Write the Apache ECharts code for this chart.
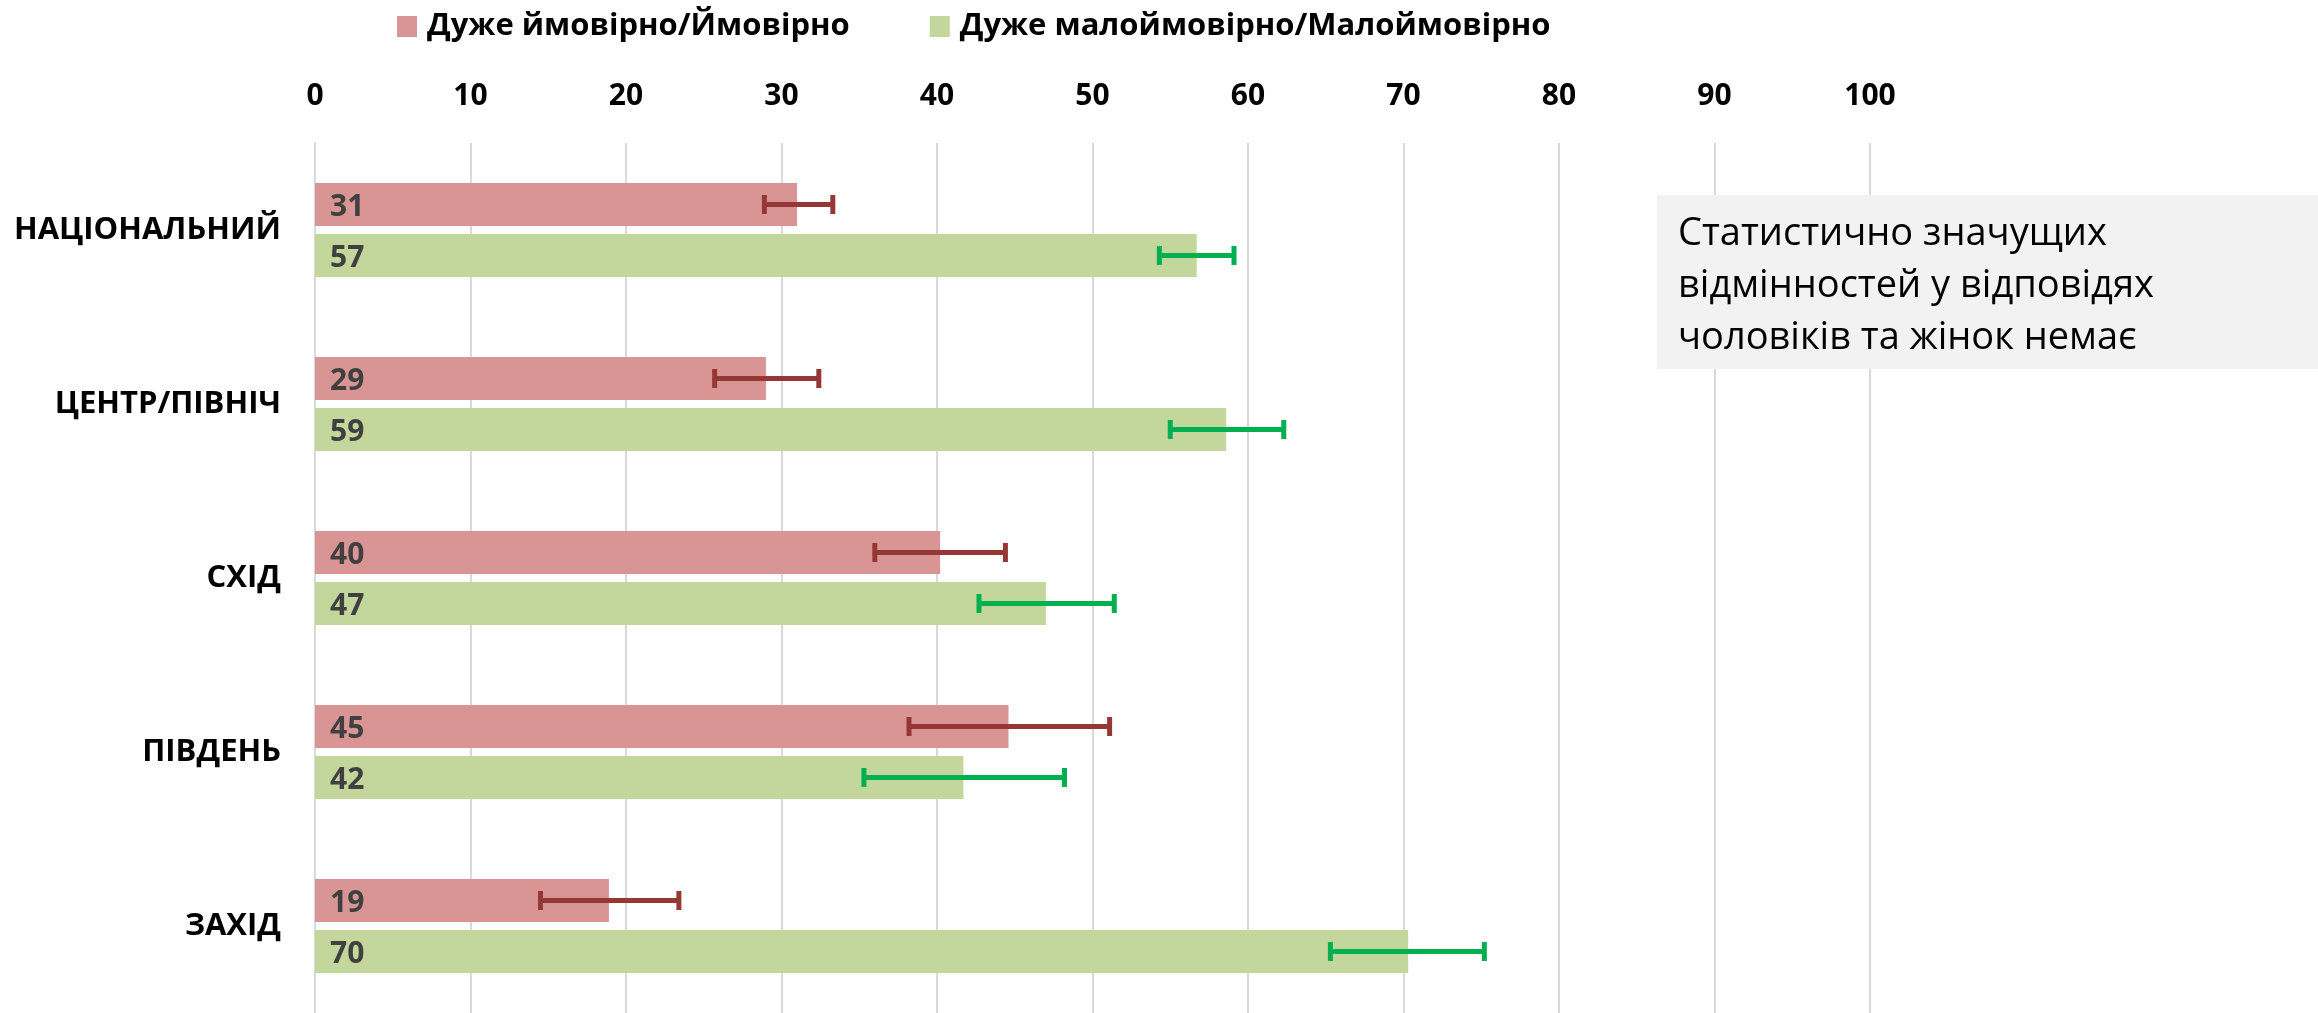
<!DOCTYPE html>
<html>
<head>
<meta charset="utf-8">
<script src="https://cdn.jsdelivr.net/npm/echarts@6/dist/echarts.min.js"></script>
<style>
  html, body { margin: 0; padding: 0; background: #fff; }
  #chart { width: 2318px; height: 1013px; }
</style>
</head>
<body>
<div id="chart"></div>
<script>
// категорії (регіони)
const categories = ['НАЦІОНАЛЬНИЙ', 'ЦЕНТР/ПІВНІЧ', 'СХІД', 'ПІВДЕНЬ', 'ЗАХІД']
const seriesNames = ['Дуже ймовірно/Ймовірно', 'Дуже малоймовірно/Малоймовірно']
// значення
const likelyValues = [31.0, 29.0, 40.2, 44.6, 18.9]
const unlikelyValues = [56.7, 58.6, 47.0, 41.7, 70.3]
// довірчі інтервали
const likelyLow = [28.9, 25.7, 36.0, 38.2, 14.5]
const likelyHigh = [33.3, 32.4, 44.4, 51.1, 23.4]
const unlikelyLow = [54.3, 55.0, 42.7, 35.3, 65.3]
const unlikelyHigh = [59.1, 62.3, 51.4, 48.2, 75.2]
// вісь x
const xMin = 0
const xMax = 100
const xStep = 10
// примітка
const noteLines = ['Статистично значущих', 'відмінностей у відповідях', 'чоловіків та жінок немає']

const FONT = '"Open Sans", "Noto Sans", sans-serif'
const BAR_W = 43
const BAR_GAP = 8

const chart = echarts.init(document.getElementById('chart'))

// планки похибок
function errorSeries(name, low, high, color, shift) {
  return {
    type: 'custom',
    name: name + ' err',
    z: 5,
    encode: { x: [1, 2], y: 0 },
    data: categories.map((c, i) => [i, low[i], high[i]]),
    renderItem(params, api) {
      const a = api.coord([api.value(1), api.value(0)])
      const b = api.coord([api.value(2), api.value(0)])
      const y = a[1] + shift
      const capH = 19, capW = 5
      return {
        type: 'group',
        children: [
          { type: 'line', shape: { x1: a[0], y1: y, x2: b[0], y2: y }, style: { stroke: color, lineWidth: 5 } },
          { type: 'rect', shape: { x: a[0] - capW / 2, y: y - capH / 2, width: capW, height: capH }, style: { fill: color } },
          { type: 'rect', shape: { x: b[0] - capW / 2, y: y - capH / 2, width: capW, height: capH }, style: { fill: color } }
        ]
      }
    }
  }
}

const shift = (BAR_W + BAR_GAP) / 2

const barLabel = {
  show: true,
  position: 'insideLeft',
  distance: 15,
  offset: [0, 3],
  color: '#404040',
  fontFamily: FONT,
  fontWeight: 'bold',
  fontSize: 30,
  formatter: p => Math.round(p.value)
}

const option = {
  animation: false,
  backgroundColor: '#fff',
  legend: {
    data: seriesNames,
    top: 6,
    left: 392,
    icon: 'rect',
    itemWidth: 20,
    itemHeight: 21,
    itemGap: 80,
    textStyle: { fontFamily: FONT, fontWeight: 'bold', fontSize: 31, color: '#000', padding: [0, 0, 0, 5] }
  },
  grid: { left: 315, right: 448, top: 143, bottom: 0 },
  xAxis: {
    type: 'value',
    position: 'top',
    min: xMin,
    max: xMax,
    interval: xStep,
    axisLine: { show: false },
    axisTick: { show: false },
    axisLabel: { margin: 32, color: '#000', fontFamily: FONT, fontWeight: 'bold', fontSize: 30 },
    splitLine: { lineStyle: { color: '#D9D9D9', width: 2 } }
  },
  yAxis: {
    type: 'category',
    data: categories,
    inverse: true,
    axisTick: { show: false },
    axisLine: { lineStyle: { color: '#D9D9D9', width: 2 } },
    axisLabel: {
      margin: 34,
      padding: [6, 0, 0, 0],
      color: '#000',
      fontFamily: FONT,
      fontWeight: 'bold',
      fontSize: 31
    }
  },
  series: [
    {
      type: 'bar',
      name: seriesNames[0],
      data: likelyValues,
      barWidth: BAR_W,
      barGap: (BAR_GAP / BAR_W * 100).toFixed(1) + '%',
      itemStyle: { color: '#D99594' },
      label: barLabel
    },
    {
      type: 'bar',
      name: seriesNames[1],
      data: unlikelyValues,
      barWidth: BAR_W,
      itemStyle: { color: '#C3D69B' },
      label: barLabel
    },
    errorSeries(seriesNames[0], likelyLow, likelyHigh, '#953735', -shift),
    errorSeries(seriesNames[1], unlikelyLow, unlikelyHigh, '#00B050', shift)
  ],
  graphic: [
    {
      type: 'rect',
      left: 1657,
      top: 195,
      shape: { width: 661, height: 174 },
      style: { fill: '#F2F2F2' },
      z: 10
    },
    {
      type: 'text',
      left: 1678,
      top: 208,
      z: 11,
      style: {
        text: noteLines.join('\n'),
        fill: '#000',
        font: '38px ' + FONT,
        lineHeight: 52
      }
    }
  ]
}

chart.setOption(option)
</script>
</body>
</html>
